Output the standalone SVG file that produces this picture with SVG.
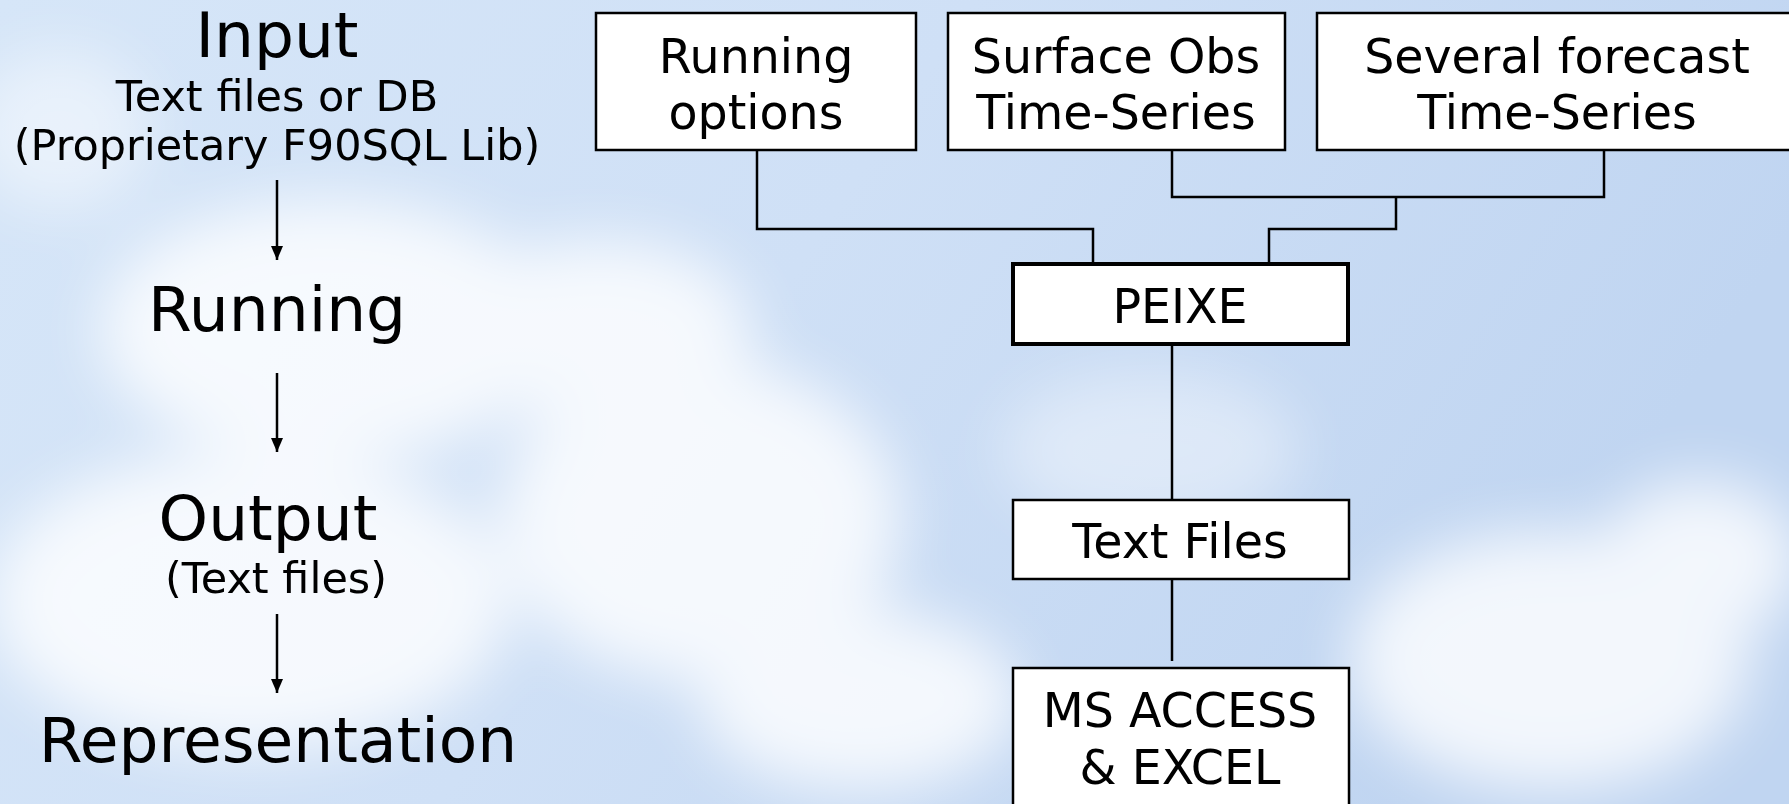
<svg xmlns="http://www.w3.org/2000/svg" width="1789" height="804" viewBox="0 0 1789 804">
<defs>
<style>
text{font-family:"DejaVu Sans","Liberation Sans",sans-serif;fill:#000;text-anchor:middle}
.big{font-size:63px}
.sub{font-size:43px}
.lbl{font-size:47.5px}
.box{fill:#fff;stroke:#000;stroke-width:2.5}
.boxb{fill:#fff;stroke:#000;stroke-width:4}
.con{fill:none;stroke:#000;stroke-width:2.5}
</style>
<linearGradient id="sky" x1="0" y1="0" x2="1" y2="0.3">
<stop offset="0" stop-color="#d6e6f8"/>
<stop offset="0.5" stop-color="#cfe0f6"/>
<stop offset="1" stop-color="#c0d5f1"/>
</linearGradient>
<filter id="blur" x="-50%" y="-50%" width="200%" height="200%"><feGaussianBlur stdDeviation="30"/></filter>
<marker id="arr" viewBox="0 0 14 12" refX="14" refY="6" markerWidth="14" markerHeight="12" markerUnits="userSpaceOnUse" orient="auto">
<path d="M0,0 L14,6 L0,12 Z" fill="#000"/>
</marker>
</defs>
<rect width="1789" height="804" fill="url(#sky)"/>
<g filter="url(#blur)" fill="#fff" opacity="0.8">
<ellipse cx="330" cy="330" rx="230" ry="130"/>
<ellipse cx="250" cy="600" rx="260" ry="150"/>
<ellipse cx="700" cy="520" rx="200" ry="160"/>
<ellipse cx="600" cy="330" rx="150" ry="90"/>
<ellipse cx="860" cy="700" rx="160" ry="90"/>
<ellipse cx="1550" cy="660" rx="200" ry="130"/>
<ellipse cx="1700" cy="560" rx="100" ry="80"/>
<ellipse cx="1150" cy="450" rx="150" ry="80" opacity="0.5"/>
<ellipse cx="60" cy="130" rx="90" ry="80" opacity="0.6"/>
</g>

<g id="left-labels">
<text class="big" x="277" y="57">Input</text>
<text class="sub" x="277" y="111">Text files or DB</text>
<text class="sub" x="277" y="160">(Proprietary F90SQL Lib)</text>
<text class="big" x="277" y="331">Running</text>
<text class="big" x="268" y="540">Output</text>
<text class="sub" x="276" y="593">(Text files)</text>
<text class="big" x="278" y="762">Representation</text>
</g>

<g id="connectors">
<line class="con" x1="277" y1="180" x2="277" y2="260" marker-end="url(#arr)"/>
<line class="con" x1="277" y1="373" x2="277" y2="452" marker-end="url(#arr)"/>
<line class="con" x1="277" y1="614" x2="277" y2="693" marker-end="url(#arr)"/>
<polyline class="con" points="757,150 757,229 1093,229 1093,262"/>
<polyline class="con" points="1172,150 1172,197 1604,197 1604,150"/>
<polyline class="con" points="1396,197 1396,229 1269,229 1269,262"/>
<line class="con" x1="1172" y1="343" x2="1172" y2="500"/>
<line class="con" x1="1172" y1="580" x2="1172" y2="661"/>
</g>

<g id="node-running-options">
<rect class="box" x="596" y="13" width="320" height="137"/>
<text class="lbl" x="756" y="73">Running</text>
<text class="lbl" x="756" y="129">options</text>
</g>
<g id="node-surface-obs">
<rect class="box" x="948" y="13" width="337" height="137"/>
<text class="lbl" x="1116" y="73">Surface Obs</text>
<text class="lbl" x="1116" y="129">Time-Series</text>
</g>
<g id="node-forecast">
<rect class="box" x="1317" y="13" width="490" height="137"/>
<text class="lbl" x="1557" y="73">Several forecast</text>
<text class="lbl" x="1557" y="129">Time-Series</text>
</g>
<g id="node-peixe">
<rect class="boxb" x="1013" y="264" width="335" height="80"/>
<text class="lbl" x="1180" y="323">PEIXE</text>
</g>
<g id="node-text-files">
<rect class="box" x="1013" y="500" width="336" height="79"/>
<text class="lbl" x="1180" y="558">Text Files</text>
</g>
<g id="node-ms-access">
<rect class="box" x="1013" y="668" width="336" height="150"/>
<text class="lbl" x="1180" y="727">MS ACCESS</text>
<text class="lbl" x="1180" y="784">&amp; EXCEL</text>
</g>
</svg>
